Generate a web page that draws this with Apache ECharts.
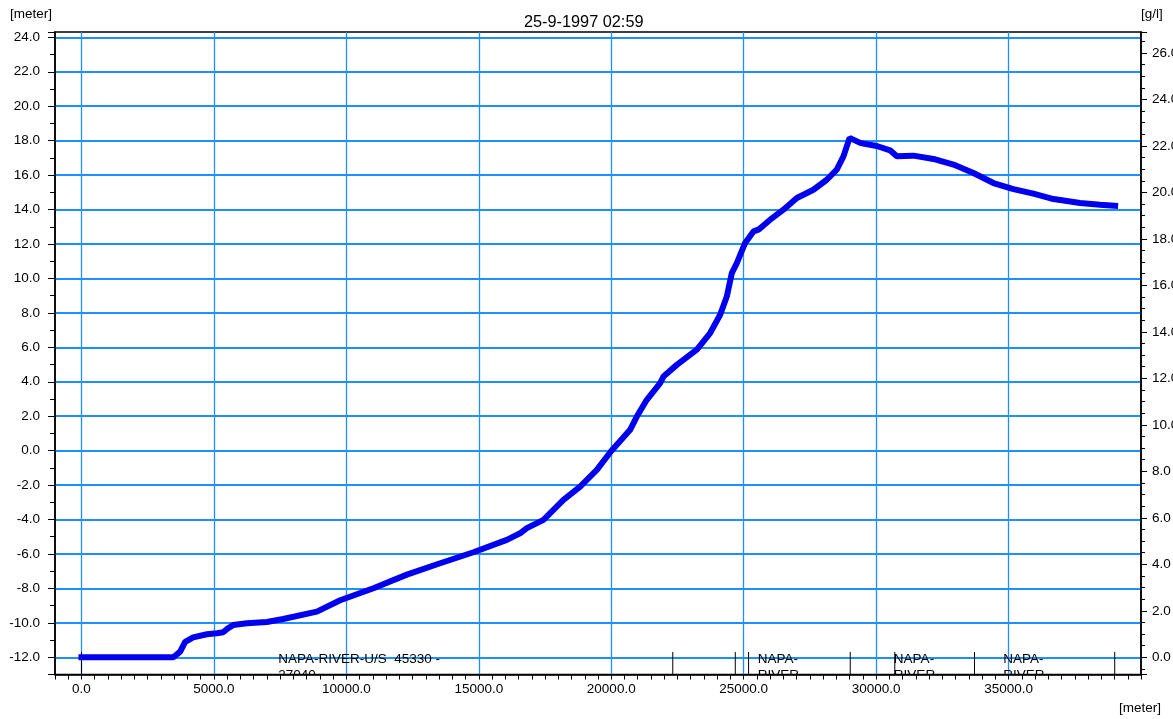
<!DOCTYPE html>
<html>
<head>
<meta charset="utf-8">
<script src="https://cdn.jsdelivr.net/npm/echarts@6/dist/echarts.min.js"></script>
<style>
html,body{margin:0;padding:0;background:#fff;}
#chart{width:1173px;height:719px;}
</style>
</head>
<body>
<div id="chart"></div>
<script>
// ---- data ----
const distance = [0, 3470, 3726, 3915, 4217, 4734, 5111, 5349, 5538, 5727, 6244, 6999, 7614, 8886, 9766,
  11023, 12284, 13541, 14798, 16058, 16557, 16813, 17441, 18196, 18826, 19456, 19985, 20713, 20965, 21343,
  21846, 21971, 22475, 23231, 23734, 24112, 24363, 24552, 24741, 25055, 25370, 25558, 26000, 26502, 27006,
  27633, 28137, 28515, 28766, 29000, 29396, 29521, 30025, 30528, 30780, 31409, 32164, 32919, 33674, 34429,
  35184, 35939, 36694, 37701, 38456, 39022];
const waterLevel = [-12.0, -12.0, -11.67, -11.1, -10.84, -10.66, -10.6, -10.55, -10.31, -10.12, -10.02, -9.95, -9.78, -9.35, -8.69,
  -7.99, -7.2, -6.54, -5.9, -5.18, -4.8, -4.5, -4.02, -2.86, -2.09, -1.12, -0.05, 1.21, 1.98, 2.95,
  3.92, 4.3, 4.98, 5.86, 6.83, 7.89, 8.95, 10.31, 10.89, 12.06, 12.73, 12.83, 13.41, 13.99, 14.67,
  15.15, 15.73, 16.32, 17.09, 18.16, 17.87, 17.83, 17.69, 17.44, 17.09, 17.13, 16.94, 16.61, 16.12, 15.54,
  15.19, 14.92, 14.61, 14.38, 14.28, 14.22];
const sectionMarks = [0, 22323, 24683, 25185, 29023, 30705, 33714, 39008];
const sectionLabelX = [7428, 25530, 30670, 34800];
const sectionLabelText = ['NAPA-RIVER-U/S  45330 -\n27040', 'NAPA-\nRIVER', 'NAPA-\nRIVER', 'NAPA-\nRIVER'];
const titleText = '25-9-1997 02:59';
const leftUnit = '[meter]';
const rightUnit = '[g/l]';
const xUnit = '[meter]';
const xRange = [-1000, 40000];
const leftRange = [-13, 24.31];
const rightRange = [-0.741, 26.9];

// ---- chart ----
const FONT = '"Liberation Sans", Arial, sans-serif';
const GRIDBLUE = '#1E8FFF';
const chart = echarts.init(document.getElementById('chart'));
const lineData = distance.map((d, i) => [d, waterLevel[i]]);

chart.setOption({
  animation: false,
  backgroundColor: '#fff',
  textStyle: { fontFamily: FONT },
  title: {
    text: titleText, left: 519, top: 10,
    textStyle: { fontFamily: FONT, fontSize: 16.3, fontWeight: 'normal', color: '#000' }
  },
  grid: {
    left: 55, right: 32, top: 32, bottom: 44.5,
    outerBoundsMode: 'none', containLabel: false,
    show: true, borderColor: '#000', borderWidth: 1.5, backgroundColor: 'transparent'
  },
  xAxis: {
    type: 'value', min: xRange[0], max: xRange[1], splitNumber: 8,
    axisLine: { show: true, onZero: false, lineStyle: { color: '#000', width: 1.5 } },
    axisTick: { show: true, length: 5, lineStyle: { color: '#000' } },
    minorTick: { show: true, splitNumber: 10, length: 5, lineStyle: { color: '#000' } },
    axisLabel: {
      color: '#000', fontSize: 13.5, fontFamily: FONT, margin: 8,
      showMinLabel: false, showMaxLabel: false,
      formatter: v => v.toFixed(1)
    },
    splitLine: { show: true, showMinLine: false, showMaxLine: false, lineStyle: { color: GRIDBLUE, width: 1.3 } }
  },
  yAxis: [
    {
      type: 'value', min: leftRange[0], max: leftRange[1], splitNumber: 18, position: 'left',
      axisLine: { show: true, onZero: false, lineStyle: { color: '#000', width: 1.5 } },
      axisTick: { show: true, length: 7, lineStyle: { color: '#000' } },
      minorTick: { show: true, splitNumber: 2, length: 5, lineStyle: { color: '#000' } },
      axisLabel: {
        color: '#000', fontSize: 13.5, fontFamily: FONT, margin: 15,
        showMinLabel: false, showMaxLabel: false,
        formatter: v => v.toFixed(1)
      },
      splitLine: { show: true, showMinLine: false, showMaxLine: false, lineStyle: { color: GRIDBLUE, width: 1.8 } }
    },
    {
      type: 'value', min: rightRange[0], max: rightRange[1], splitNumber: 14, position: 'right',
      axisLine: { show: true, onZero: false, lineStyle: { color: '#000', width: 1.5 } },
      axisTick: { show: true, length: 6, lineStyle: { color: '#000' } },
      minorTick: { show: true, splitNumber: 4, length: 4, lineStyle: { color: '#000' } },
      axisLabel: {
        color: '#000', fontSize: 13.5, fontFamily: FONT, margin: 11,
        showMinLabel: false, showMaxLabel: false,
        formatter: v => v.toFixed(1)
      },
      splitLine: { show: false }
    }
  ],
  graphic: [
    { type: 'text', left: 10, top: 7, style: { text: leftUnit, fill: '#000', fontSize: 13.5, fontFamily: FONT } },
    { type: 'text', left: 1141, top: 7, style: { text: rightUnit, fill: '#000', fontSize: 13.5, fontFamily: FONT } },
    { type: 'text', left: 1119, top: 701, style: { text: xUnit, fill: '#000', fontSize: 13.5, fontFamily: FONT } }
  ],
  series: [
    {
      type: 'line', data: lineData, yAxisIndex: 0, showSymbol: false, symbol: 'none',
      lineStyle: { color: '#0000EE', width: 6, cap: 'square' }, z: 5, silent: true
    },
    {
      type: 'custom', yAxisIndex: 0, clip: true, silent: true, z: 4,
      data: sectionMarks.map(x => [x, -12]),
      renderItem: (params, api) => {
        const top = api.coord([api.value(0), -11.69]);
        const bot = api.coord([api.value(0), leftRange[0]]);
        return { type: 'line', shape: { x1: top[0], y1: top[1], x2: bot[0], y2: bot[1] + 1 },
                 style: { stroke: '#000', lineWidth: 1 } };
      }
    },
    {
      type: 'custom', yAxisIndex: 0, clip: true, silent: true, z: 4,
      data: sectionLabelX.map(x => [x, -12]),
      renderItem: (params, api) => {
        const p = api.coord([api.value(0), -12]);
        return { type: 'text', x: p[0], y: p[1] - 6,
                 style: { text: sectionLabelText[params.dataIndex], fill: '#000', fontSize: 13.5,
                          fontFamily: FONT, lineHeight: 16, verticalAlign: 'top', align: 'left' } };
      }
    }
  ]
});
</script>
</body>
</html>
